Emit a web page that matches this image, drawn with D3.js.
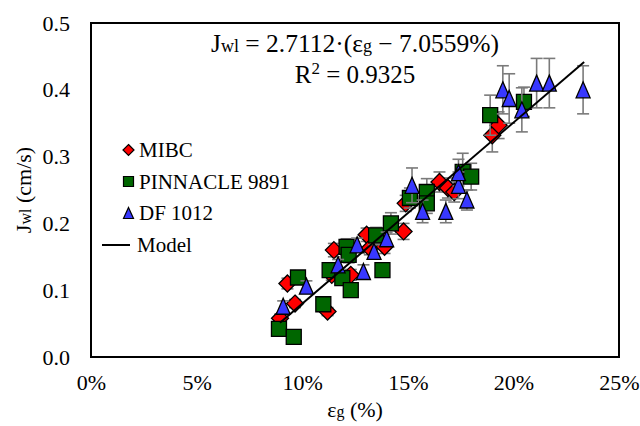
<!DOCTYPE html>
<html>
<head>
<meta charset="utf-8">
<script src="https://cdn.jsdelivr.net/npm/d3@7"></script>
<style>
  body { margin: 0; background: #fff; }
  svg text { font-family: "Liberation Serif", "Times New Roman", "DejaVu Serif", serif; }
</style>
</head>
<body>
<svg id="chart" width="640" height="426"></svg>
<script>
//
// Data (gas holdup in %, water flux in cm/s, error bar half-length)
//

const mibcX = [8.95, 9.3, 9.66, 11.2, 11.4, 11.5, 12.3, 13.05, 13.2, 13.9, 14.8, 14.9, 16.5, 16.9, 17.2, 19.0, 19.3]
const mibcY = [0.058, 0.110, 0.080, 0.068, 0.123, 0.160, 0.123, 0.183, 0.163, 0.165, 0.188, 0.230, 0.262, 0.253, 0.247, 0.332, 0.347]
const mibcErr = [0.006, 0.008, 0.006, 0.006, 0.008, 0.010, 0.008, 0.010, 0.010, 0.010, 0.012, 0.012, 0.015, 0.015, 0.015, 0.025, 0.020]

const pinX = [8.9, 9.6, 9.8, 11.0, 11.3, 11.9, 12.1, 12.2, 12.3, 13.5, 13.8, 14.2, 15.1, 15.9, 15.9, 17.6, 18.0, 18.9, 20.5]
const pinY = [0.042, 0.030, 0.119, 0.079, 0.130, 0.118, 0.165, 0.153, 0.100, 0.182, 0.130, 0.200, 0.238, 0.247, 0.230, 0.277, 0.270, 0.362, 0.382]
const pinErr = [0.005, 0.005, 0.008, 0.006, 0.010, 0.010, 0.012, 0.012, 0.008, 0.012, 0.010, 0.016, 0.015, 0.020, 0.015, 0.028, 0.020, 0.030, 0.022]

const dfX = [9.1, 10.2, 11.7, 12.6, 12.9, 13.4, 14.0, 15.2, 15.7, 16.8, 17.4, 17.4, 17.8, 19.5, 19.8, 20.4, 21.1, 21.7, 23.3]
const dfY = [0.076, 0.106, 0.138, 0.168, 0.128, 0.158, 0.177, 0.257, 0.218, 0.218, 0.257, 0.276, 0.235, 0.400, 0.387, 0.370, 0.410, 0.410, 0.400]
const dfErr = [0.008, 0.008, 0.008, 0.010, 0.010, 0.010, 0.010, 0.026, 0.017, 0.017, 0.020, 0.020, 0.015, 0.036, 0.037, 0.033, 0.037, 0.037, 0.036]

// model: Jwl = 2.7112 * (eg - 7.0559%)
const modelSlope = 2.7112
const modelOffset = 7.0559
const modelRange = [8.95, 23.35]

const xTicks = [0, 5, 10, 15, 20, 25]
const yTicks = [0, 0.1, 0.2, 0.3, 0.4, 0.5]

//
// Layout
//

const FONT = '"Liberation Serif", "Times New Roman", "DejaVu Serif", serif'
const margin = { top: 23, right: 21, bottom: 69, left: 91 }
const width = 640 - margin.left - margin.right
const height = 426 - margin.top - margin.bottom

const svg = d3.select('#chart')
svg.append('rect').attr('width', 640).attr('height', 426).attr('fill', '#fff')

const g = svg.append('g').attr('transform', `translate(${margin.left},${margin.top})`)

const x = d3.scaleLinear().domain([0, 25]).range([0, width])
const y = d3.scaleLinear().domain([0, 0.5]).range([height, 0])

// marker shapes, centred on 0,0
function diamond(r) {
  return `M0,${-r}L${r},0L0,${r}L${-r},0Z`
}
function square(r) {
  return `M${-r},${-r}H${r}V${r}H${-r}Z`
}
function triangle(w, h) {
  return `M0,${-h}L${w},${h}L${-w},${h}Z`
}

const series = [
  { name: 'MIBC', xs: mibcX, ys: mibcY, errs: mibcErr, color: '#ff0000', shape: diamond(8.5), legend: diamond(5.5) },
  { name: 'PINNACLE 9891', xs: pinX, ys: pinY, errs: pinErr, color: '#006600', shape: square(7.5), legend: square(5) },
  { name: 'DF 1012', xs: dfX, ys: dfY, errs: dfErr, color: '#3838ff', shape: triangle(7, 8), legend: triangle(5, 5.5) },
]

//
// Axes
//

const xAxis = g.append('g')
  .attr('transform', `translate(0,${height})`)
  .call(d3.axisBottom(x).tickValues(xTicks).tickSize(0).tickPadding(17).tickFormat((d) => d + '%'))
xAxis.select('.domain').remove()

const yAxis = g.append('g')
  .call(d3.axisLeft(y).tickValues(yTicks).tickSize(0).tickPadding(21).tickFormat(d3.format('.1f')))
yAxis.select('.domain').remove()

xAxis.attr('font-family', FONT).attr('font-size', 22)
yAxis.attr('font-family', FONT).attr('font-size', 22)
g.selectAll('.tick text')
  .style('font-family', FONT)
  .style('font-size', '22px')
  .attr('fill', '#000')

//
// Points
//

series.forEach((s) => {
  const pts = s.xs.map((v, i) => ({ x: v, y: s.ys[i], e: s.errs[i] }))
  const layer = g.append('g')

  const bars = layer.selectAll('g.err').data(pts).join('g')
    .attr('stroke', '#7a7a7a')
    .attr('stroke-width', 1.6)
  bars.append('line')
    .attr('x1', (d) => x(d.x)).attr('x2', (d) => x(d.x))
    .attr('y1', (d) => y(d.y - d.e)).attr('y2', (d) => y(d.y + d.e))
  bars.append('line')
    .attr('x1', (d) => x(d.x) - 6).attr('x2', (d) => x(d.x) + 6)
    .attr('y1', (d) => y(d.y + d.e)).attr('y2', (d) => y(d.y + d.e))
  bars.append('line')
    .attr('x1', (d) => x(d.x) - 6).attr('x2', (d) => x(d.x) + 6)
    .attr('y1', (d) => y(d.y - d.e)).attr('y2', (d) => y(d.y - d.e))

  layer.selectAll('path.pt').data(pts).join('path')
    .attr('class', 'pt')
    .attr('d', s.shape)
    .attr('transform', (d) => `translate(${x(d.x)},${y(d.y)})`)
    .attr('fill', s.color)
    .attr('stroke', '#000')
    .attr('stroke-width', 1.3)
})

// model line
g.append('path')
  .datum(modelRange)
  .attr('d', d3.line()
    .x((d) => x(d))
    .y((d) => y((modelSlope * (d - modelOffset)) / 100)))
  .attr('stroke', '#000')
  .attr('stroke-width', 2)
  .attr('fill', 'none')

// frame
g.append('rect')
  .attr('width', width).attr('height', height)
  .attr('fill', 'none').attr('stroke', '#000').attr('stroke-width', 2)

//
// Legend
//

const legend = svg.append('g').style('font-size', '21px')
series.forEach((s, i) => {
  const ly = 150 + i * 31.5
  legend.append('path')
    .attr('d', s.legend)
    .attr('transform', `translate(128.5,${ly})`)
    .attr('fill', s.color).attr('stroke', '#000').attr('stroke-width', 1.2)
  legend.append('text')
    .attr('x', 139).attr('y', ly + 7)
    .text(s.name)
})
legend.append('line')
  .attr('x1', 102).attr('x2', 130).attr('y1', 245).attr('y2', 245)
  .attr('stroke', '#000').attr('stroke-width', 2)
legend.append('text').attr('x', 137).attr('y', 252).text('Model')

//
// Equation and titles
//

const eq = svg.append('text')
  .attr('x', 355).attr('y', 52)
  .attr('text-anchor', 'middle')
  .style('font-size', '25.5px')
eq.append('tspan').text('J')
eq.append('tspan').style('font-size', '18px').text('wl')
eq.append('tspan').text(` = ${modelSlope}·(ε`)
eq.append('tspan').style('font-size', '18px').text('g')
eq.append('tspan').text(` − ${modelOffset}%)`)

const r2 = svg.append('text')
  .attr('x', 355).attr('y', 83)
  .attr('text-anchor', 'middle')
  .style('font-size', '25px')
r2.append('tspan').text('R')
r2.append('tspan').style('font-size', '17px').attr('dy', -9).text('2')
r2.append('tspan').attr('dy', 9).text(' = 0.9325')

const xt = svg.append('text')
  .attr('x', margin.left + width / 2).attr('y', 417)
  .attr('text-anchor', 'middle')
  .style('font-size', '22px')
xt.append('tspan').text('ε')
xt.append('tspan').style('font-size', '16px').text('g')
xt.append('tspan').text(' (%)')

const yt = svg.append('text')
  .attr('transform', `translate(31,${margin.top + height / 2}) rotate(-90)`)
  .attr('text-anchor', 'middle')
  .style('font-size', '22px')
yt.append('tspan').text('J')
yt.append('tspan').style('font-size', '16px').text('wl')
yt.append('tspan').text(' (cm/s)')
</script>
</body>
</html>
